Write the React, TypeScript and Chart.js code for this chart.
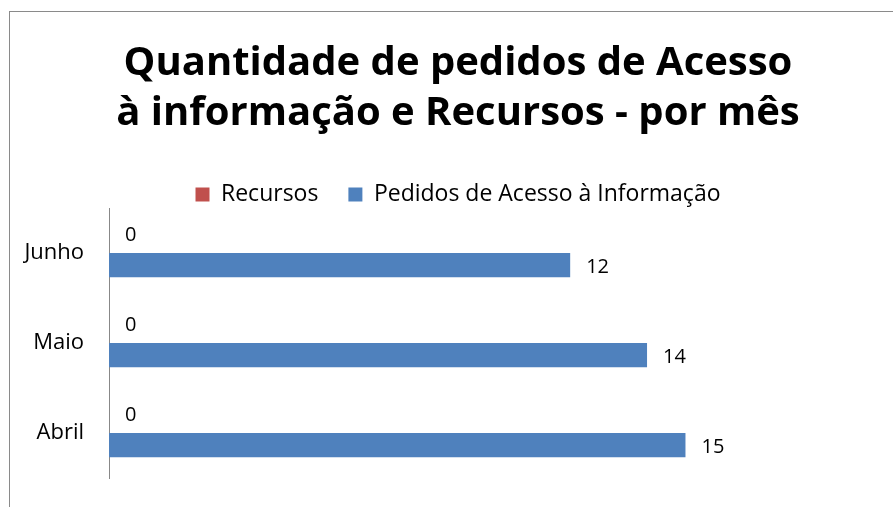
import React, { useEffect, useRef } from "react";
import { Chart, registerables } from "chart.js";
Chart.register(...registerables);

const categories = ["Junho", "Maio", "Abril"];
const recursos = [0, 0, 0];
const pedidos = [12, 14, 15];
const seriesNames = ["Recursos", "Pedidos de Acesso à Informação"];
const titleLines = ["Quantidade de pedidos de Acesso", "à informação e Recursos - por mês"];

const FONT = "'Open Sans', sans-serif";

const valueLabels = {
  id: "valueLabels",
  afterDatasetsDraw(chart: any) {
    const ctx = chart.ctx;
    ctx.save();
    ctx.font = `20px ${FONT}`;
    ctx.fillStyle = "#000";
    ctx.textAlign = "left";
    ctx.textBaseline = "middle";
    chart.data.datasets.forEach((ds: any, di: number) => {
      const meta = chart.getDatasetMeta(di);
      meta.data.forEach((el: any, i: number) => {
        const v = ds.data[i];
        ctx.fillText(String(v), el.x + 16, el.y + (di === 0 ? -6 : 2));
      });
    });
    ctx.restore();
  },
};

const legendTighten = {
  id: "legendTighten",
  beforeLayout(chart: any) {
    const lg = chart.legend;
    if (lg && !lg._tightened) {
      const orig = lg.fit.bind(lg);
      lg.fit = function () {
        orig();
        this.height -= 8;
      };
      lg._tightened = true;
    }
  },
};

export default function App() {
  const ref = useRef<HTMLCanvasElement>(null);
  useEffect(() => {
    const chart = new Chart(ref.current!, {
      type: "bar",
      data: {
        labels: categories,
        datasets: [
          { label: seriesNames[0], data: recursos, backgroundColor: "#C0504D" },
          { label: seriesNames[1], data: pedidos, backgroundColor: "#4F81BD" },
        ],
      },
      options: {
        indexAxis: "y",
        animation: false,
        responsive: false,
        categoryPercentage: 0.54,
        barPercentage: 1,
        layout: { padding: { left: 23, right: 0, top: 0, bottom: 29 } },
        scales: {
          x: { display: false, min: 0, max: 20.4 },
          y: {
            grid: { display: false },
            border: { display: true, color: "#888", width: 1 },
            ticks: { color: "#000", font: { size: 22, family: FONT }, padding: 17 },
            afterFit: (s: any) => {
              s.width = 86;
              s.paddingTop = 0;
              s.paddingBottom = 0;
            },
          },
        },
        plugins: {
          title: {
            display: true,
            text: titleLines,
            color: "#000",
            font: { size: 40, weight: "bold", family: FONT, lineHeight: 1.25 },
            padding: { top: 39, bottom: 14 },
          },
          legend: {
            display: true,
            labels: {
              color: "#000",
              font: { size: 23, family: FONT },
              boxWidth: 14,
              boxHeight: 14,
              padding: 30,
            },
          },
          tooltip: { enabled: false },
        },
      },
      plugins: [valueLabels, legendTighten],
    });
    return () => chart.destroy();
  }, []);
  return (
    <div style={{ position: "fixed", left: 0, top: 0, width: 893, height: 507, overflow: "hidden", background: "#fff" }}>
      <div style={{ position: "absolute", left: 9, top: 11, width: 950, height: 560, border: "1px solid #8a8a8a" }} />
      <canvas ref={ref} width={893} height={507} style={{ position: "absolute", left: 0, top: 0 }} />
    </div>
  );
}
